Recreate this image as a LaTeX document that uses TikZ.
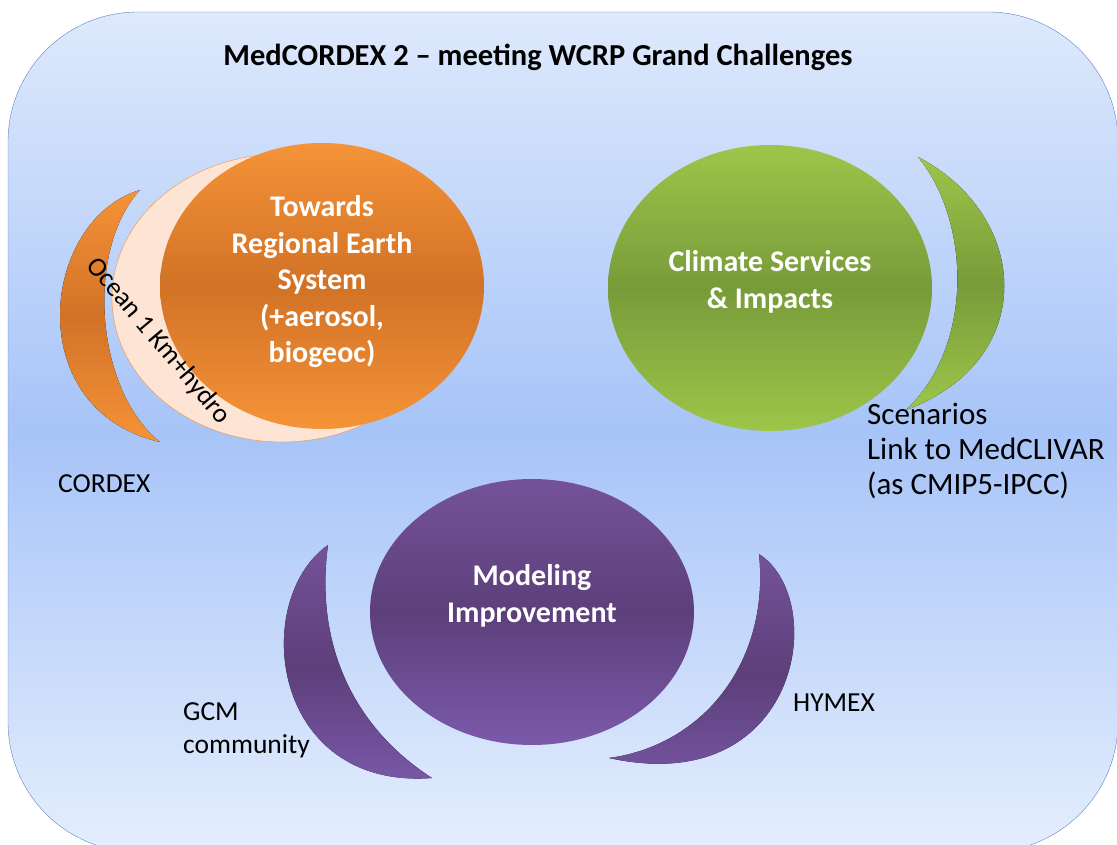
\documentclass[tikz,border=0pt]{standalone}
\usepackage{fontspec}
\setmainfont{Carlito}
\usetikzlibrary{shapes.geometric}

\definecolor{bgtop}{RGB}{222,233,252}
\definecolor{bgmid}{RGB}{167,196,248}
\definecolor{bgbot}{RGB}{229,238,253}
\definecolor{bgline}{RGB}{92,132,189}
\definecolor{orgedge}{RGB}{245,147,56}
\definecolor{orgmid}{RGB}{210,114,38}
\definecolor{peach}{RGB}{253,228,212}
\definecolor{grnedge}{RGB}{156,198,73}
\definecolor{grnmid}{RGB}{120,155,58}
\definecolor{purtop}{RGB}{116,82,152}
\definecolor{purmid}{RGB}{93,63,123}
\definecolor{purbot}{RGB}{123,89,170}

\begin{document}
\begin{tikzpicture}[x=1pt,y=-1pt,
    bigtxt/.style={font=\bfseries\fontsize{30}{36.5}\selectfont,text=white,align=center,inner sep=0},
    plaintxt/.style={font=\fontsize{31}{35}\selectfont,align=left,inner sep=0},
    sidetxt/.style={font=\fontsize{27.5}{33}\selectfont,align=left,inner sep=0},
    orangefill/.style={top color=orgedge,bottom color=orgedge,middle color=orgmid},
    greenfill/.style={top color=grnedge,bottom color=grnedge,middle color=grnmid},
    purplefill/.style={top color=purtop,bottom color=purbot,middle color=purmid},
    blob/.style={ellipse,inner sep=0}]
  \useasboundingbox (0,0) rectangle (1117,845);
  % the rounded background, cut off at right and bottom
  \begin{scope}
    \clip (0,0) rectangle (1117,845);
    \draw[bgline,thin,top color=bgtop,bottom color=bgbot,middle color=bgmid,rounded corners=130]
      (8,12) rectangle (1118,852);
  \end{scope}
  \node[font=\bfseries\fontsize{30.5}{34}\selectfont] (title) at (538,57) {MedCORDEX 2 – meeting WCRP Grand Challenges};

  % orange group: crescent, ocean ring, earth system
  \fill[orangefill] (140,190) .. controls (40,220) and (20,410) .. (160,442)
    .. controls (95,390) and (85,250) .. (140,190);
  \node[blob,draw=orgedge,thin,fill=peach,minimum width=340,minimum height=288] (ocean) at (282,298) {};
  \node[blob,orangefill,minimum width=324,minimum height=286] (earth) at (322,286) {};
  \node[bigtxt] (earthtxt) at (322,282) {Towards\\Regional Earth\\System\\(+aerosol,\\biogeoc)};
  \node[font=\fontsize{27}{30}\selectfont,rotate=-50,inner sep=0] (oceantxt) at (158,341) {Ocean 1 Km+hydro};
  \node[sidetxt,anchor=west] (cordex) at (58,484) {CORDEX};

  % green group
  \fill[greenfill] (918,157) .. controls (1030,215) and (1040,360) .. (906,410)
    .. controls (975,345) and (970,220) .. (918,157);
  \node[blob,greenfill,minimum width=324,minimum height=286] (services) at (770,288) {};
  \node[bigtxt] (servicestxt) at (770,282) {Climate Services\\\& Impacts};
  \node[plaintxt,anchor=west] (scenarios) at (867,451) {Scenarios\\Link to MedCLIVAR\\(as CMIP5-IPCC)};

  % purple group
  \fill[purplefill] (328,545) .. controls (250,600) and (270,790) .. (432,778)
    .. controls (350,725) and (315,640) .. (328,545);
  \fill[purplefill] (759,554) .. controls (830,600) and (800,800) .. (609,758)
    .. controls (705,745) and (770,660) .. (759,554);
  \node[blob,purplefill,minimum width=324,minimum height=266] (modeling) at (532,612) {};
  \node[bigtxt] (modelingtxt) at (532,596) {Modeling\\Improvement};
  \node[sidetxt,anchor=west] (gcm) at (183,730) {GCM\\community};
  \node[sidetxt,anchor=west] (hymex) at (793,703) {HYMEX};
\end{tikzpicture}
\end{document}
